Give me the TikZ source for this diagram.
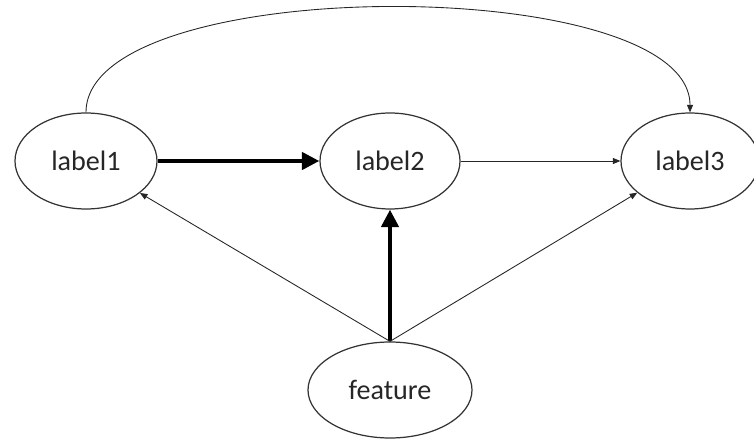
\documentclass[tikz,border=0pt]{standalone}
\usepackage{fontspec}
\setmainfont{Carlito}
\usetikzlibrary{arrows.meta,positioning,calc,shapes.geometric}

\begin{document}
\begin{tikzpicture}[
	var/.style={ellipse,draw=black!80,line width=0.7pt,inner sep=0pt,minimum width=2.84cm,minimum height=1.92cm,text=black!85,font=\fontsize{16}{19}\selectfont},
	thin arrow/.style={-{Triangle[length=1.5mm,width=1.2mm]},line width=0.5pt,draw=black!85},
	fat arrow/.style={-{Triangle[length=3.5mm,width=3.4mm]},line width=2.5pt}]
	\useasboundingbox (0,0) rectangle (15.08,8.78);
	
	% label nodes
	\node[var] (label1) at (1.72,5.56) {label1};
	\node[var,minimum width=2.8cm] (label2) at (7.8,5.56) {label2};
	\node[var,minimum width=2.76cm] (label3) at (13.8,5.56) {label3};
	
	% input node
	\node[var,minimum width=3.28cm] (feature) at (7.8,0.98) {feature};
	
	% strong links
	\draw[fat arrow] (label1) -- (label2);
	\draw[fat arrow] (feature) -- (label2);
	
	% weak links
	\draw[thin arrow] (label2) -- (label3);
	\draw[thin arrow] (feature.north) -- (label1);
	\draw[thin arrow] (feature.north) -- (label3);
	\draw[thin arrow] (label1.north) .. controls +(0,2.8) and +(0,2.8) .. (label3.north);
\end{tikzpicture}
\end{document}
